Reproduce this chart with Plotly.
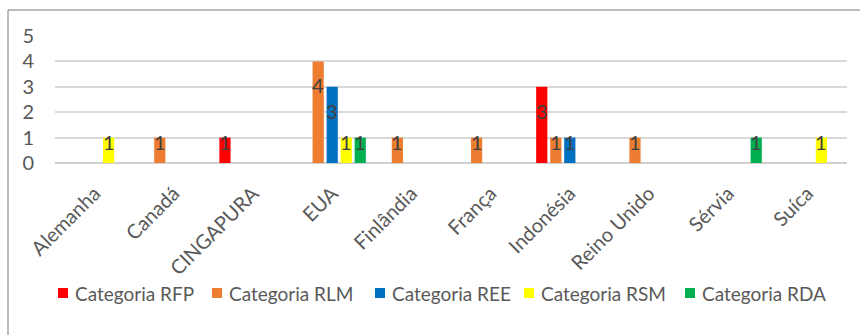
import plotly.graph_objects as go

countries = ["Alemanha", "Canadá", "CINGAPURA", "EUA", "Finlândia", "França",
             "Indonésia", "Reino Unido", "Sérvia", "Suíca"]
series_names = ["Categoria RFP", "Categoria RLM", "Categoria REE", "Categoria RSM", "Categoria RDA"]
rfp = [0, 0, 1, 0, 0, 0, 3, 0, 0, 0]
rlm = [0, 1, 0, 4, 1, 1, 1, 1, 0, 0]
ree = [0, 0, 0, 3, 0, 0, 1, 0, 0, 0]
rsm = [1, 0, 0, 1, 0, 0, 0, 0, 0, 1]
rda = [0, 0, 0, 1, 0, 0, 0, 0, 1, 0]
colors = ["#FF0000", "#ED7D31", "#0070C0", "#FFFF00", "#00B050"]
y_ticks = [0, 1, 2, 3, 4, 5]

series = [rfp, rlm, ree, rsm, rda]

W, H = 860, 335
ML, MR, MT, MB = 55, 13, 36, 172
plot_w = W - ML - MR
plot_h = H - MT - MB
bargap = 0.115
cat_w = plot_w / len(countries)
step = cat_w * (1 - bargap) / len(series)

FONT = "Lato, 'Open Sans', sans-serif"
TXT = "#595959"

px_to_paper_x = lambda px: (px - ML) / plot_w
px_to_paper_y = lambda py: (H - MB - py) / plot_h

fig = go.Figure()
annotations = []
for i, (name, vals, col) in enumerate(zip(series_names, series, colors)):
    fig.add_trace(go.Bar(x=countries, y=vals, name=name, marker_color=col,
                         marker_line_width=0, showlegend=False))
    for c, v in zip(countries, vals):
        if v:
            annotations.append(dict(
                x=c, y=v, xref="x", yref="y", text=str(v), showarrow=False,
                xshift=(i - (len(series) - 1) / 2) * step,
                yshift=-24 if v > 1 else -4,
                font=dict(family=FONT, size=20, color="#404040")))

# legend drawn as swatches + text (Excel-like compact spacing)
legend_left = [58, 212, 375, 524, 685]   # swatch left edges, px
legend_cy = 293
swatch = 10
shapes = [dict(type="rect", xref="paper", yref="paper",
               x0=px_to_paper_x(8), x1=px_to_paper_x(875),
               y0=px_to_paper_y(350), y1=px_to_paper_y(10),
               line=dict(color="#7a7a7a", width=1), layer="below")]
for name, col, lx in zip(series_names, colors, legend_left):
    shapes.append(dict(type="rect", xref="paper", yref="paper",
                       x0=px_to_paper_x(lx), x1=px_to_paper_x(lx + swatch),
                       y0=px_to_paper_y(legend_cy + swatch / 2),
                       y1=px_to_paper_y(legend_cy - swatch / 2),
                       fillcolor=col, line=dict(width=0)))
    annotations.append(dict(x=px_to_paper_x(lx + swatch + 5), y=px_to_paper_y(legend_cy),
                            xref="paper", yref="paper", xanchor="left", yanchor="middle",
                            text=name, showarrow=False,
                            font=dict(family=FONT, size=19, color=TXT)))

fig.update_layout(
    width=W, height=H,
    margin=dict(l=ML, r=MR, t=MT, b=MB),
    paper_bgcolor="white", plot_bgcolor="white",
    barmode="group", bargap=bargap, bargroupgap=0.2,
    font=dict(family=FONT, size=19, color=TXT),
    showlegend=False,
    annotations=annotations,
    shapes=shapes,
)
fig.update_xaxes(showgrid=False, tickangle=-45, showline=False, ticks="",
                 tickfont=dict(family=FONT, size=20, color=TXT),
                 ticklabelstandoff=14)
fig.update_yaxes(range=[0, 5], tickvals=y_ticks, showgrid=True, gridcolor="#d9d9d9",
                 gridwidth=1.5, zeroline=True, zerolinecolor="#d0d0d0", zerolinewidth=2,
                 showline=False, ticks="", tickfont=dict(family=FONT, size=20, color=TXT),
                 ticklabelstandoff=20)

fig.write_html("out.html")
